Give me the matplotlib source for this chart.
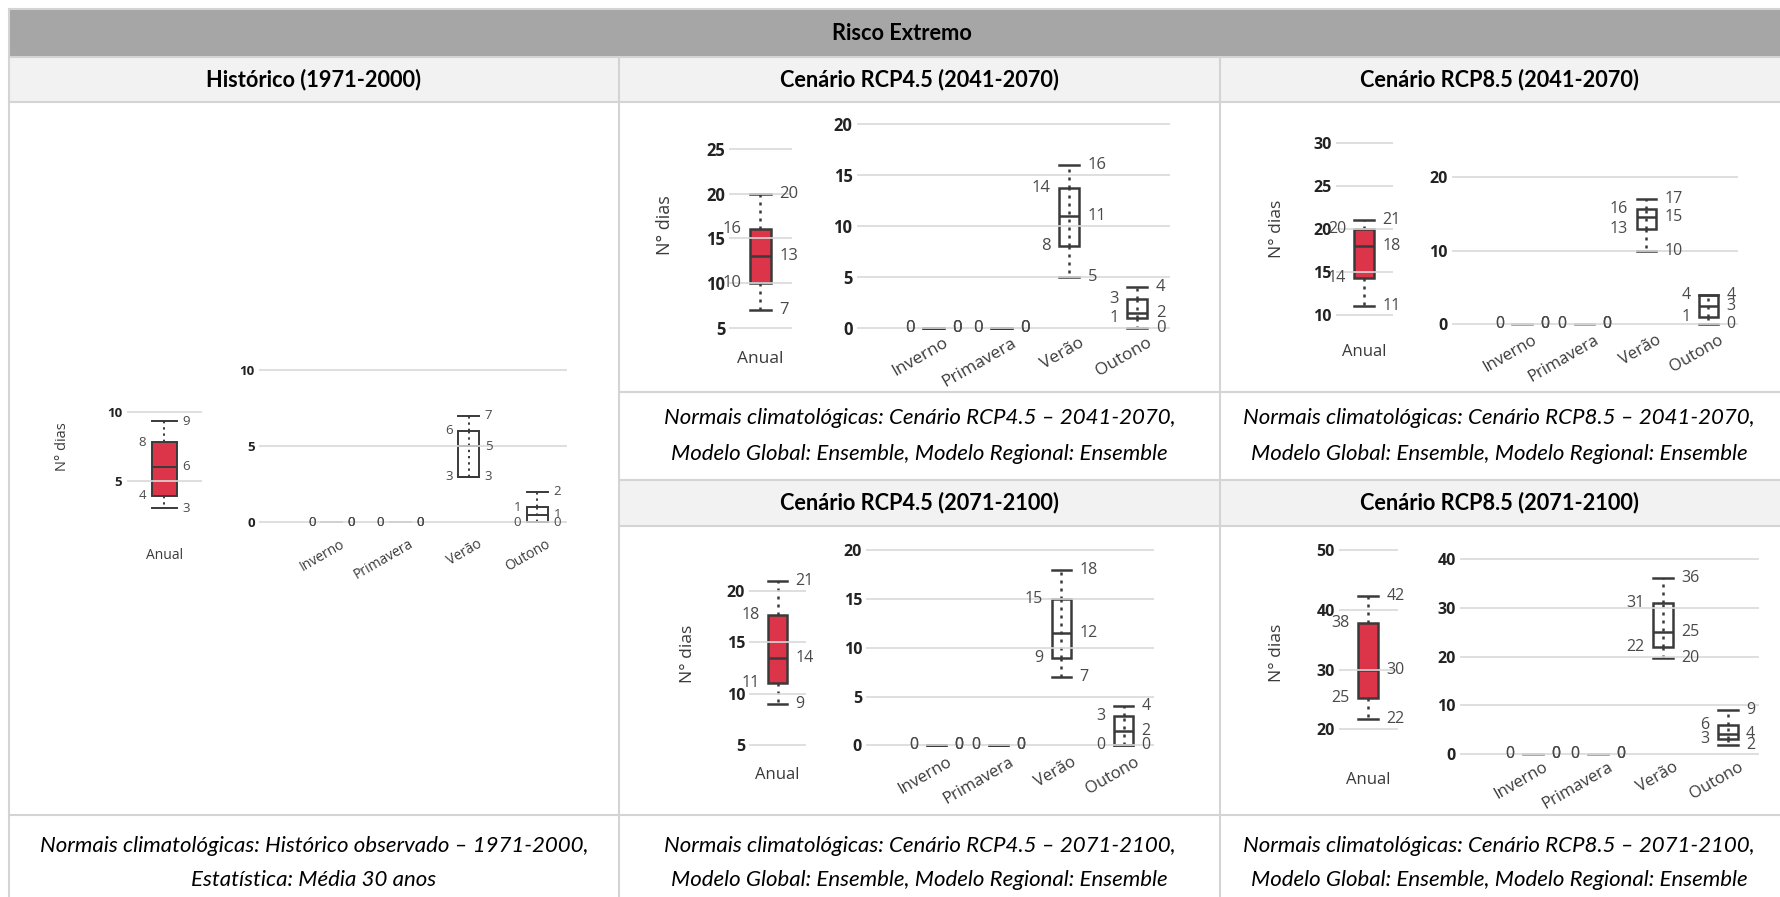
import matplotlib.pyplot as plt
import matplotlib.transforms as mtransforms
from matplotlib.patches import Rectangle
from matplotlib.lines import Line2D
import numpy as np

# valores das caixas: [mínimo, Q1, mediana, Q3, máximo]
estacoes = ["Inverno", "Primavera", "Verão", "Outono"]

hist_anual = [3, 3.9, 6, 7.8, 9.3]
hist_estacoes = [[0, 0, 0, 0, 0], [0, 0, 0, 0, 0], [3, 3, 5, 6, 7], [0, 0, 0.5, 1, 2]]

rcp45_2041_anual = [7, 10, 13, 16, 20]
rcp45_2041_estacoes = [[0, 0, 0, 0, 0], [0, 0, 0, 0, 0], [5, 8, 11, 13.7, 16], [0, 1, 1.5, 2.8, 4]]

rcp85_2041_anual = [11, 14.3, 18, 20, 21]
rcp85_2041_estacoes = [[0, 0, 0, 0, 0], [0, 0, 0, 0, 0], [10, 13, 14.6, 15.7, 17], [0, 1, 2.5, 4, 4]]

rcp45_2071_anual = [9, 11, 13.5, 17.7, 21]
rcp45_2071_estacoes = [[0, 0, 0, 0, 0], [0, 0, 0, 0, 0], [7, 9, 11.5, 15, 18], [0, 0, 1.5, 3, 4]]

rcp85_2071_anual = [21.8, 25.2, 30, 37.8, 42.3]
rcp85_2071_estacoes = [[0, 0, 0, 0, 0], [0, 0, 0, 0, 0], [19.6, 22, 25, 31, 36], [2, 3.1, 4.1, 6, 9]]

titulo = "Risco Extremo"
cab_hist = "Histórico (1971-2000)"
cab_45_41 = "Cenário RCP4.5 (2041-2070)"
cab_85_41 = "Cenário RCP8.5 (2041-2070)"
cab_45_71 = "Cenário RCP4.5 (2071-2100)"
cab_85_71 = "Cenário RCP8.5 (2071-2100)"
leg_hist = ["Normais climatológicas: Histórico observado – 1971-2000,", "Estatística: Média 30 anos"]
leg_45_41 = ["Normais climatológicas: Cenário RCP4.5 – 2041-2070,", "Modelo Global: Ensemble, Modelo Regional: Ensemble"]
leg_85_41 = ["Normais climatológicas: Cenário RCP8.5 – 2041-2070,", "Modelo Global: Ensemble, Modelo Regional: Ensemble"]
leg_45_71 = ["Normais climatológicas: Cenário RCP4.5 – 2071-2100,", "Modelo Global: Ensemble, Modelo Regional: Ensemble"]
leg_85_71 = ["Normais climatológicas: Cenário RCP8.5 – 2071-2100,", "Modelo Global: Ensemble, Modelo Regional: Ensemble"]

W, H = 1780, 897
fig = plt.figure(figsize=(W / 100, H / 100), dpi=100)
fig.patch.set_facecolor("white")
pix = mtransforms.Affine2D().scale(1 / W, -1 / H).translate(0, 1) + fig.transFigure

FONTE_TAB = ["Lato", "DejaVu Sans"]
FONTE_GRAF = ["Open Sans", "DejaVu Sans"]
BORDA_TAB = "#D4D4D4"
VERMELHO = "#DC3549"
ESCURO = "#3a3a3a"

# ---- tabela ----
def ret(x0, y0, x1, y1, cor):
    fig.add_artist(Rectangle((x0, y0), x1 - x0, y1 - y0, transform=pix,
                             facecolor=cor, edgecolor="none", zorder=0))

def linha(xs, ys):
    fig.add_artist(Line2D(xs, ys, transform=pix, color=BORDA_TAB, lw=1.5, zorder=1))

def texto(x, y, s, **kw):
    fig.text(x, y, s, transform=pix, ha="center", va="center", family=FONTE_TAB,
             color="black", **kw)

ret(9, 9, 1790, 57, "#A6A6A6")
ret(9, 57, 1790, 102, "#F2F2F2")
ret(619, 480, 1790, 526, "#F2F2F2")
for y in (9, 57, 102, 815):
    linha([9, 1790], [y, y])
for y in (392, 480, 526):
    linha([619, 1790], [y, y])
linha([9, 9], [9, 897])
for x in (619, 1220):
    linha([x, x], [57, 897])

FS_TAB = 16
texto(902, 33, titulo, fontsize=FS_TAB - 0.3, fontweight="bold")
for x, s in ((314, cab_hist), (919.5, cab_45_41), (1499, cab_85_41)):
    texto(x, 80, s, fontsize=FS_TAB - 0.3, fontweight="bold")
for x, s in ((919.5, cab_45_71), (1499, cab_85_71)):
    texto(x, 503, s, fontsize=FS_TAB - 0.3, fontweight="bold")
for x, leg in ((919.5, leg_45_41), (1499, leg_85_41)):
    texto(x, 418, leg[0], fontsize=FS_TAB, style="italic")
    texto(x, 454, leg[1], fontsize=FS_TAB, style="italic")
for x, leg in ((314, leg_hist), (919.5, leg_45_71), (1499, leg_85_71)):
    texto(x, 846, leg[0], fontsize=FS_TAB, style="italic")
    texto(x, 880, leg[1], fontsize=FS_TAB, style="italic")


# ---- gráficos ----
def eixo(xs, ref, ylim):
    (v1, p1), (v2, p2) = ref
    k = (p2 - p1) / (v1 - v2)
    topo = p1 - (ylim[1] - v1) * k
    base = p1 + (v1 - ylim[0]) * k
    ax = fig.add_axes([xs[0] / W, 1 - base / H, (xs[1] - xs[0]) / W, (base - topo) / H])
    ax.set_ylim(*ylim)
    for s in ax.spines.values():
        s.set_visible(False)
    ax.set_facecolor("none")
    return ax, base


def rotulo(v):
    return str(int(np.floor(v + 0.5)))


def caixas(ax, dados, largura, cor, lw, fs, off, cor_zero=ESCURO):
    pos = np.arange(len(dados))
    stats = [dict(whislo=d[0], q1=d[1], med=d[2], q3=d[3], whishi=d[4], fliers=[]) for d in dados]
    ax.vlines(pos, [d[1] for d in dados], [d[3] for d in dados], colors=ESCURO, lw=lw,
              linestyles=(0, (1.2, 2.0)), zorder=1.5)
    res = ax.bxp(stats, positions=pos, widths=largura, capwidths=largura, patch_artist=True,
                 showfliers=False, manage_ticks=False,
                 boxprops=dict(facecolor=cor, edgecolor=ESCURO, linewidth=lw),
                 medianprops=dict(color=ESCURO, linewidth=lw),
                 whiskerprops=dict(color=ESCURO, linewidth=lw, linestyle=(0, (1.2, 2.0))),
                 capprops=dict(color=ESCURO, linewidth=lw))
    # caixas sem amplitude (tudo zero) aparecem como traço cinzento
    for i, d in enumerate(dados):
        if d[0] == d[4]:
            res["boxes"][i].set_edgecolor(cor_zero)
            res["medians"][i].set_color(cor_zero)
            for art in res["caps"][2 * i:2 * i + 2]:
                art.set_color(cor_zero)
    for p, d in zip(pos, dados):
        for v in (d[4], d[2], d[0]):
            ax.annotate(rotulo(v), (p + largura / 2, v), xytext=(off, 0), textcoords="offset points",
                        ha="left", va="center", fontsize=fs, color="#4a4a4a",
                        family=FONTE_GRAF, annotation_clip=False)
        for v in (d[3], d[1]):
            ax.annotate(rotulo(v), (p - largura / 2, v), xytext=(-off, 0), textcoords="offset points",
                        ha="right", va="center", fontsize=fs, color="#4a4a4a",
                        family=FONTE_GRAF, annotation_clip=False)


def estilo_y(ax, ticks, fs):
    ax.set_yticks(ticks)
    ax.set_yticklabels([str(t) for t in ticks], fontweight="bold", family=FONTE_GRAF)
    ax.tick_params(axis="y", length=0, pad=3, labelsize=fs, labelcolor="#222222")
    ax.yaxis.grid(True, color="#D9D9D9", lw=1.2)
    ax.set_axisbelow(False)


def painel(cfg, anual, sazonal):
    fs, lw, off = cfg["fs"], cfg["lw"], cfg["off"]

    ax, base = eixo(cfg["a_x"], cfg["a_ref"], cfg["a_ylim"])
    ax.set_xlim(-0.5, 0.5)
    caixas(ax, [anual], cfg["a_w"], VERMELHO, lw, fs, off)
    estilo_y(ax, cfg["a_ticks"], fs)
    ax.set_xticks([0])
    ax.set_xticklabels(["Anual"], family=FONTE_GRAF, color=ESCURO)
    ax.tick_params(axis="x", length=0, labelsize=fs + 0.5, pad=(cfg["a_lab"] - base) * 0.72)

    ax2, base2 = eixo(cfg["s_x"], cfg["s_ref"], cfg["s_ylim"])
    ax2.set_xlim(*cfg["s_xlim"])
    caixas(ax2, sazonal, cfg["s_w"], "none", lw, fs, off, cfg["zero"])
    estilo_y(ax2, cfg["s_ticks"], fs)
    ax2.set_xticks(range(len(estacoes)))
    ax2.set_xticklabels(estacoes, family=FONTE_GRAF, color=ESCURO)
    zero = cfg["s_ref"][1][1]
    ax2.tick_params(axis="x", length=0, labelsize=fs + 0.5, pad=(zero + cfg["s_gap"] - base2) * 0.72)
    desloc = mtransforms.ScaledTranslation(cfg["s_dx"] / 100, 0, fig.dpi_scale_trans)
    for lb in ax2.get_xticklabels():
        lb.set_rotation(30)
        lb.set_ha("right")
        lb.set_rotation_mode("anchor")
        lb.set_transform(lb.get_transform() + desloc)

    fig.text(cfg["ylab"][0], cfg["ylab"][1], "N° dias", transform=pix, rotation=90,
             ha="center", va="center", fontsize=fs + 1, color=ESCURO, family=FONTE_GRAF)


paineis = [
    (dict(a_x=(126.5, 201.7), a_ref=((10, 411.7), (5, 480.7)), a_ylim=(2.3, 10.4), a_ticks=[5, 10],
          a_w=0.33, a_lab=548,
          s_x=(259, 567.4), s_ref=((10, 370), (0, 522.3)), s_ylim=(-0.6, 10.4), s_ticks=[0, 5, 10],
          s_xlim=(-1.06, 3.44), s_w=0.31, s_gap=14, s_dx=8, zero="#AAAAAA",
          ylab=(63, 446.7), fs=9.5, lw=1.4, off=4),
     hist_anual, hist_estacoes),
    (dict(a_x=(729.4, 791.5), a_ref=((25, 148.7), (5, 328)), a_ylim=(4.4, 25.6), a_ticks=[5, 10, 15, 20, 25],
          a_w=0.34, a_lab=351,
          s_x=(856.6, 1169.8), s_ref=((20, 123.7), (0, 328)), s_ylim=(-0.6, 20.4), s_ticks=[0, 5, 10, 15, 20],
          s_xlim=(-1.13, 3.48), s_w=0.3, s_gap=7, s_dx=10, zero=ESCURO,
          ylab=(665, 225), fs=12, lw=1.8, off=6),
     rcp45_2041_anual, rcp45_2041_estacoes),
    (dict(a_x=(1336, 1392.5), a_ref=((30, 143), (10, 314.7)), a_ylim=(9.4, 30.6), a_ticks=[10, 15, 20, 25, 30],
          a_w=0.35, a_lab=344,
          s_x=(1452, 1738), s_ref=((20, 177.3), (0, 324.3)), s_ylim=(-0.8, 20.6), s_ticks=[0, 10, 20],
          s_xlim=(-1.13, 3.48), s_w=0.31, s_gap=8, s_dx=10, zero="#AAAAAA",
          ylab=(1277, 228.7), fs=11.5, lw=1.8, off=6),
     rcp85_2041_anual, rcp85_2041_estacoes),
    (dict(a_x=(749.3, 805.7), a_ref=((20, 591), (5, 745)), a_ylim=(4.4, 21.6), a_ticks=[5, 10, 15, 20],
          a_w=0.33, a_lab=767,
          s_x=(866.2, 1153.7), s_ref=((20, 550.3), (0, 745.3)), s_ylim=(-0.6, 20.4), s_ticks=[0, 5, 10, 15, 20],
          s_xlim=(-1.12, 3.48), s_w=0.31, s_gap=9, s_dx=10, zero=ESCURO,
          ylab=(688, 654), fs=11.5, lw=1.8, off=6),
     rcp45_2071_anual, rcp45_2071_estacoes),
    (dict(a_x=(1339, 1397.5), a_ref=((50, 550.3), (20, 729.3)), a_ylim=(19, 51), a_ticks=[20, 30, 40, 50],
          a_w=0.34, a_lab=772,
          s_x=(1460, 1759), s_ref=((40, 558.7), (0, 754.3)), s_ylim=(-1.2, 41), s_ticks=[0, 10, 20, 30, 40],
          s_xlim=(-1.12, 3.48), s_w=0.3, s_gap=5, s_dx=10, zero="#AAAAAA",
          ylab=(1277, 652.7), fs=11.5, lw=1.8, off=6),
     rcp85_2071_anual, rcp85_2071_estacoes),
]

for cfg, anual, sazonal in paineis:
    painel(cfg, anual, sazonal)

fig.savefig("out.png", dpi=100, facecolor="white")
